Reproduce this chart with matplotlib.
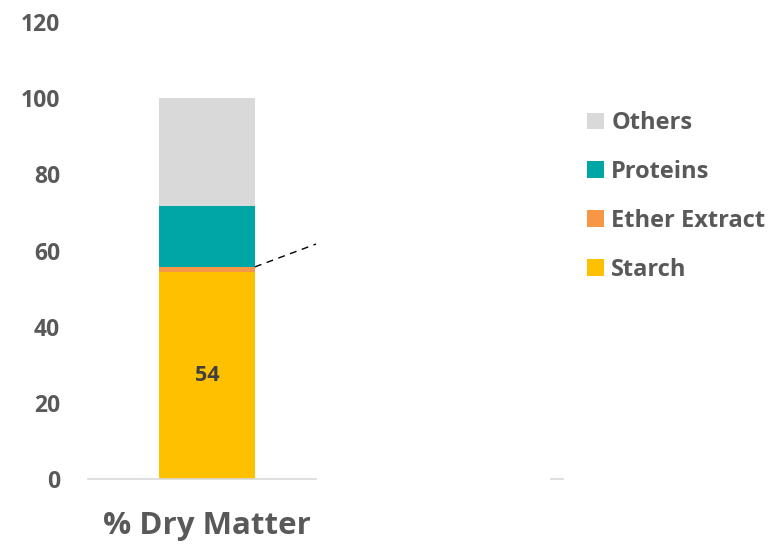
import matplotlib
matplotlib.use("Agg")
import matplotlib.pyplot as plt
from matplotlib.lines import Line2D

# values
category = "% Dry Matter"
components = ["Starch", "Ether Extract", "Proteins", "Others"]
values = [54.4, 1.3, 16.0, 28.3]
colors = ["#FFC000", "#F79646", "#00A5A5", "#D9D9D9"]
y_ticks = [0, 20, 40, 60, 80, 100, 120]

TXT = "#595959"
plt.rcParams["font.family"] = ["Open Sans", "DejaVu Sans"]
plt.rcParams["font.weight"] = "bold"

W, H = 782, 547
fig = plt.figure(figsize=(W / 100, H / 100), dpi=100)
ax = fig.add_axes([88 / W, (H - 479) / H, (316 - 88) / W, (479 - 22) / H])

bar_w = 0.42
bottom = 0.0
handles = []
for name, v, c in zip(components, values, colors):
    b = ax.bar(0, v, bottom=bottom, width=bar_w, color=c, label=name)
    handles.append(b)
    bottom += v

# label on the starch segment
ax.text(0, values[0] / 2, f"{values[0]:.0f}", ha="center", va="center",
        fontsize=15.5, fontweight="bold", color="#404040")

ax.set_xlim(-0.522, 0.478)
ax.set_ylim(0, 120)
ax.set_yticks(y_ticks)
ax.tick_params(axis="y", length=0, labelsize=16.5, labelcolor=TXT, pad=20)
ax.set_xticks([0])
ax.set_xticklabels([category])
ax.tick_params(axis="x", length=0, labelsize=22.5, labelcolor=TXT, pad=23)
for s in ["left", "right", "top"]:
    ax.spines[s].set_visible(False)
ax.spines["bottom"].set_color("#D9D9D9")
ax.spines["bottom"].set_linewidth(1.2)

# dashed connector from the top of the ether extract segment
top_ee = values[0] + values[1]
ax.plot([bar_w / 2, 0.478], [top_ee, 61.7], ls=(0, (5, 4)), color="black",
        lw=1, clip_on=False)

# stub of the secondary axis line
fig.add_artist(Line2D([551 / W, 563 / W], [(H - 479) / H] * 2,
                      color="#D9D9D9", lw=1.2))

leg = fig.legend(handles[::-1], components[::-1], loc="upper left",
                 bbox_to_anchor=(566 / W, 1 - 90 / H), frameon=False,
                 handlelength=0.72, handleheight=0.72, handletextpad=0.3,
                 labelspacing=1.05, fontsize=17)
for t in leg.get_texts():
    t.set_color(TXT)
    t.set_fontweight("bold")

fig.savefig("out.png", dpi=100, facecolor="white")
